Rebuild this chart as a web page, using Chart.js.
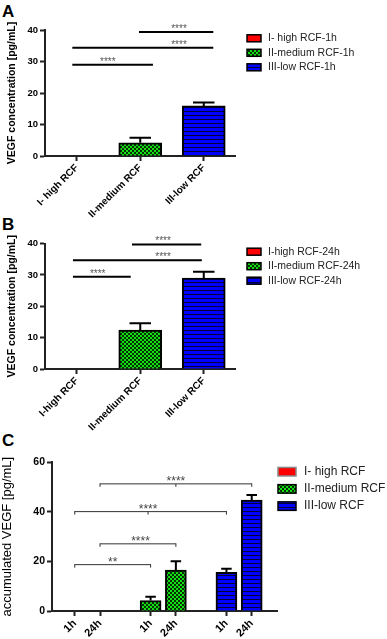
<!DOCTYPE html>
<html>
<head>
<meta charset="utf-8">
<script src="https://cdn.jsdelivr.net/npm/chart.js@4.4.0/dist/chart.umd.min.js"></script>
<style>
  body { margin: 0; background: #fff; width: 387px; height: 639px; overflow: hidden; position: relative; }
  canvas { position: absolute; left: 0; }
  .letter { position: absolute; left: 2px; font: bold 17px "Liberation Sans", Arial, sans-serif; line-height: 17px; color: #000; }
</style>
</head>
<body>
<div class="letter" style="top:3px">A</div>
<div class="letter" style="top:216px">B</div>
<div class="letter" style="top:432px">C</div>
<canvas id="chartA" width="387" height="240" style="top:0"></canvas>
<canvas id="chartB" width="387" height="240" style="top:195px"></canvas>
<canvas id="chartC" width="387" height="239" style="top:400px"></canvas>
<script>
// Panel A - 1h
const catLabelsA = ['I- high RCF', 'II-medium RCF', 'III-low RCF'];
const legendA = ['I- high RCF-1h', 'II-medium RCF-1h', 'III-low RCF-1h'];
const meanA = [0, 4.2, 15.9];
const errA = [0, 1.6, 1.1];

// Panel B - 24h
const catLabelsB = ['I-high RCF', 'II-medium RCF', 'III-low RCF'];
const legendB = ['I-high RCF-24h', 'II-medium RCF-24h', 'III-low RCF-24h'];
const meanB = [0, 12.4, 29.0];
const errB = [0, 2.2, 2.0];

// Panel C - accumulated
const legendC = ['I- high RCF', 'II-medium RCF', 'III-low RCF'];
const timeLabels = ['1h', '24h'];
const posC = [[1, 2], [4, 5], [7, 8]];
const meanC = [[0, 0], [4.2, 16.5], [15.6, 44.8]];
const errC = [[0, 0], [1.6, 3.6], [1.4, 2.0]];

// significance lines (x in category / axis units)
const sigA = [
    { from: -0.07, to: 1.2, at: 0.49, y: 29.0, text: '****' },
    { from: -0.07, to: 2.15, at: 1.61, y: 34.4, text: '****' },
    { from: 0.98, to: 2.15, at: 1.61, y: 39.4, text: '****' }
];
const sigB = [
    { from: -0.06, to: 0.85, at: 0.33, y: 29.4, text: '****' },
    { from: -0.06, to: 1.97, at: 1.36, y: 34.7, text: '****' },
    { from: 0.87, to: 1.96, at: 1.36, y: 39.7, text: '****' }
];
const sigC = [
    { from: 1, to: 4, at: 2.5, y: 18.7, text: '**', mid: false },
    { from: 2, to: 5, at: 3.6, y: 27.1, text: '****', mid: false },
    { from: 1, to: 7, at: 3.9, y: 40.1, text: '****', mid: true },
    { from: 2, to: 8, at: 5.0, y: 51.3, text: '****', mid: true }
];

const FONT = '"Liberation Sans", Arial, sans-serif';

// fill patterns
function makePattern(size, draw) {
    const c = document.createElement('canvas');
    c.width = size; c.height = size;
    draw(c.getContext('2d'));
    return document.createElement('canvas').getContext('2d').createPattern(c, 'repeat');
}
const checker = makePattern(4, g => {
    g.fillStyle = '#14e014';
    g.fillRect(0, 0, 4, 4);
    g.fillStyle = '#063006';
    g.fillRect(2, 0, 2, 2);
    g.fillRect(0, 2, 2, 2);
});
const stripes = makePattern(4, g => {
    g.fillStyle = '#0000ff';
    g.fillRect(0, 0, 4, 4);
    g.fillStyle = '#00003a';
    g.fillRect(0, 3, 4, 1);
});
const fills = ['#ff0000', checker, stripes];

// error bars (upper half only)
const errorBars = {
    id: 'errorBars',
    afterDatasetsDraw(chart) {
        const ctx = chart.ctx;
        const yScale = chart.scales.y;
        ctx.save();
        ctx.strokeStyle = '#000';
        ctx.lineWidth = 2;
        chart.data.datasets.forEach((ds, di) => {
            const meta = chart.getDatasetMeta(di);
            meta.data.forEach((bar, i) => {
                const raw = ds.data[i];
                const val = raw !== null && typeof raw === 'object' ? raw.y : raw;
                const err = ds.errors[i];
                if (val === null || !err) return;
                const top = yScale.getPixelForValue(val + err);
                const half = bar.width / 4;
                ctx.beginPath();
                ctx.moveTo(bar.x, bar.y);
                ctx.lineTo(bar.x, top);
                ctx.moveTo(bar.x - half, top);
                ctx.lineTo(bar.x + half, top);
                ctx.stroke();
            });
        });
        ctx.restore();
    }
};

// significance lines / brackets
function sigPlugin(items, st) {
    return {
        id: 'sigLines',
        afterDatasetsDraw(chart) {
            const ctx = chart.ctx;
            const xs = chart.scales.x, ys = chart.scales.y;
            ctx.save();
            items.forEach(s => {
                const x1 = xs.getPixelForValue(s.from);
                const x2 = xs.getPixelForValue(s.to);
                const py = ys.getPixelForValue(s.y);
                ctx.strokeStyle = st.color;
                ctx.lineWidth = st.width;
                ctx.beginPath();
                ctx.moveTo(x1, py);
                ctx.lineTo(x2, py);
                if (st.bracket) {
                    ctx.moveTo(x1, py - 0.5);
                    ctx.lineTo(x1, py + 3);
                    ctx.moveTo(x2, py - 0.5);
                    ctx.lineTo(x2, py + 3);
                    if (s.mid) {
                        const xm = xs.getPixelForValue(s.at);
                        ctx.moveTo(xm, py);
                        ctx.lineTo(xm, py + 3);
                    }
                }
                ctx.stroke();
                ctx.fillStyle = st.textColor;
                ctx.font = st.font;
                ctx.textAlign = 'center';
                ctx.textBaseline = 'alphabetic';
                ctx.fillText(s.text, xs.getPixelForValue(s.at), py + st.textOffset);
            });
            ctx.restore();
        }
    };
}

// legend at a fixed spot
function legendPlugin(st) {
    return {
        id: 'boxLegend',
        afterDraw(chart) {
            const ctx = chart.ctx;
            ctx.save();
            chart.data.datasets.forEach((ds, i) => {
                const cy = st.y + i * st.gap;
                ctx.fillStyle = ds.backgroundColor;
                ctx.fillRect(st.x, cy - st.boxH / 2, st.boxW, st.boxH);
                ctx.strokeStyle = ds.legendBorder || '#000';
                ctx.lineWidth = 1.5;
                ctx.strokeRect(st.x, cy - st.boxH / 2, st.boxW, st.boxH);
                ctx.fillStyle = st.color;
                ctx.font = st.font;
                ctx.textAlign = 'left';
                ctx.textBaseline = 'middle';
                ctx.fillText(ds.label, st.textX, cy);
            });
            ctx.restore();
        }
    };
}

function axisStyle(extra) {
    return Object.assign({
        border: { display: true, color: '#222', width: 2 },
        grid: { display: true, drawOnChartArea: false, drawTicks: true, tickLength: 5, tickWidth: 2, tickColor: '#222', offset: false }
    }, extra);
}

function categoryPanel(id, labels, legend, means, errs, sig, legendY, xHeight, padTop) {
    const datasets = legend.map((lbl, i) => ({
        label: lbl,
        data: means.map((v, j) => (j === i ? v : null)),
        errors: errs.map((v, j) => (j === i ? v : 0)),
        backgroundColor: fills[i],
        borderColor: '#000',
        borderWidth: 2,
        grouped: false,
        barThickness: 43
    }));
    return new Chart(document.getElementById(id), {
        type: 'bar',
        data: { labels: labels, datasets: datasets },
        plugins: [
            errorBars,
            sigPlugin(sig, { color: '#000', width: 2, bracket: false, textColor: '#555', font: '10px ' + FONT, textOffset: 0 }),
            legendPlugin({ x: 247, y: legendY, gap: 14.5, boxW: 14, boxH: 7, textX: 268, font: '10.5px ' + FONT, color: '#222' })
        ],
        options: {
            responsive: false,
            animation: false,
            layout: { padding: { top: padTop, right: 151.5, bottom: 0, left: 0 } },
            plugins: {
                legend: { display: false },
                tooltip: { enabled: false }
            },
            scales: {
                x: axisStyle({
                    offset: true,
                    ticks: { color: '#000', font: { family: FONT, size: 10, weight: 'bold' }, minRotation: 45, maxRotation: 45, padding: 1, autoSkip: false },
                    afterFit(scale) { scale.height = xHeight; }
                }),
                y: axisStyle({
                    min: 0, max: 40,
                    ticks: { stepSize: 10, color: '#000', font: { family: FONT, size: 9.5, weight: 'bold' }, padding: 2 },
                    title: { display: true, text: 'VEGF concentration [pg/mL]', color: '#000', font: { family: FONT, size: 10.5, weight: 'bold' }, padding: { top: 6, bottom: 0 } },
                    afterFit(scale) { scale.width = 45; }
                })
            }
        }
    });
}

categoryPanel('chartA', catLabelsA, legendA, meanA, errA, sigA, 38.3, 84, 30);
categoryPanel('chartB', catLabelsB, legendB, meanB, errB, sigB, 56.7, 66, 48.5);

// Panel C
const tickPosC = posC.flat();
const datasetsC = legendC.map((lbl, i) => ({
    label: lbl,
    data: posC[i].map((x, j) => ({ x: x, y: meanC[i][j] })),
    errors: errC[i],
    backgroundColor: fills[i],
    borderColor: '#000',
    legendBorder: i === 0 ? '#888' : '#000',
    borderWidth: 2,
    grouped: false,
    barThickness: 21
}));

new Chart(document.getElementById('chartC'), {
    type: 'bar',
    data: { datasets: datasetsC },
    plugins: [
        errorBars,
        sigPlugin(sigC, { color: '#333', width: 1, bracket: true, textColor: '#444', font: '12px ' + FONT, textOffset: 1 }),
        legendPlugin({ x: 278, y: 71.7, gap: 17.2, boxW: 18, boxH: 8.5, textX: 304, font: '12px ' + FONT, color: '#222' })
    ],
    options: {
        responsive: false,
        animation: false,
        layout: { padding: { top: 62.3, right: 110, bottom: 0, left: 0 } },
        plugins: {
            legend: { display: false },
            tooltip: { enabled: false }
        },
        scales: {
            x: axisStyle({
                type: 'linear',
                min: 0.1, max: 9,
                offset: false,
                afterBuildTicks(scale) { scale.ticks = tickPosC.map(v => ({ value: v })); },
                ticks: {
                    color: '#000', font: { family: FONT, size: 11, weight: 'bold' },
                    minRotation: 45, maxRotation: 45, padding: 1, autoSkip: false,
                    callback: (value, index) => timeLabels[index % 2]
                },
                afterFit(scale) { scale.height = 28; }
            }),
            y: axisStyle({
                min: 0, max: 60,
                ticks: { stepSize: 20, color: '#000', font: { family: FONT, size: 10.5, weight: 'bold' }, padding: 2 },
                title: { display: true, text: 'accumulated VEGF [pg/mL]', color: '#000', font: { family: FONT, size: 13 }, padding: { top: 0, bottom: 0 } },
                afterFit(scale) { scale.width = 52; }
            })
        }
    }
});
</script>
</body>
</html>
